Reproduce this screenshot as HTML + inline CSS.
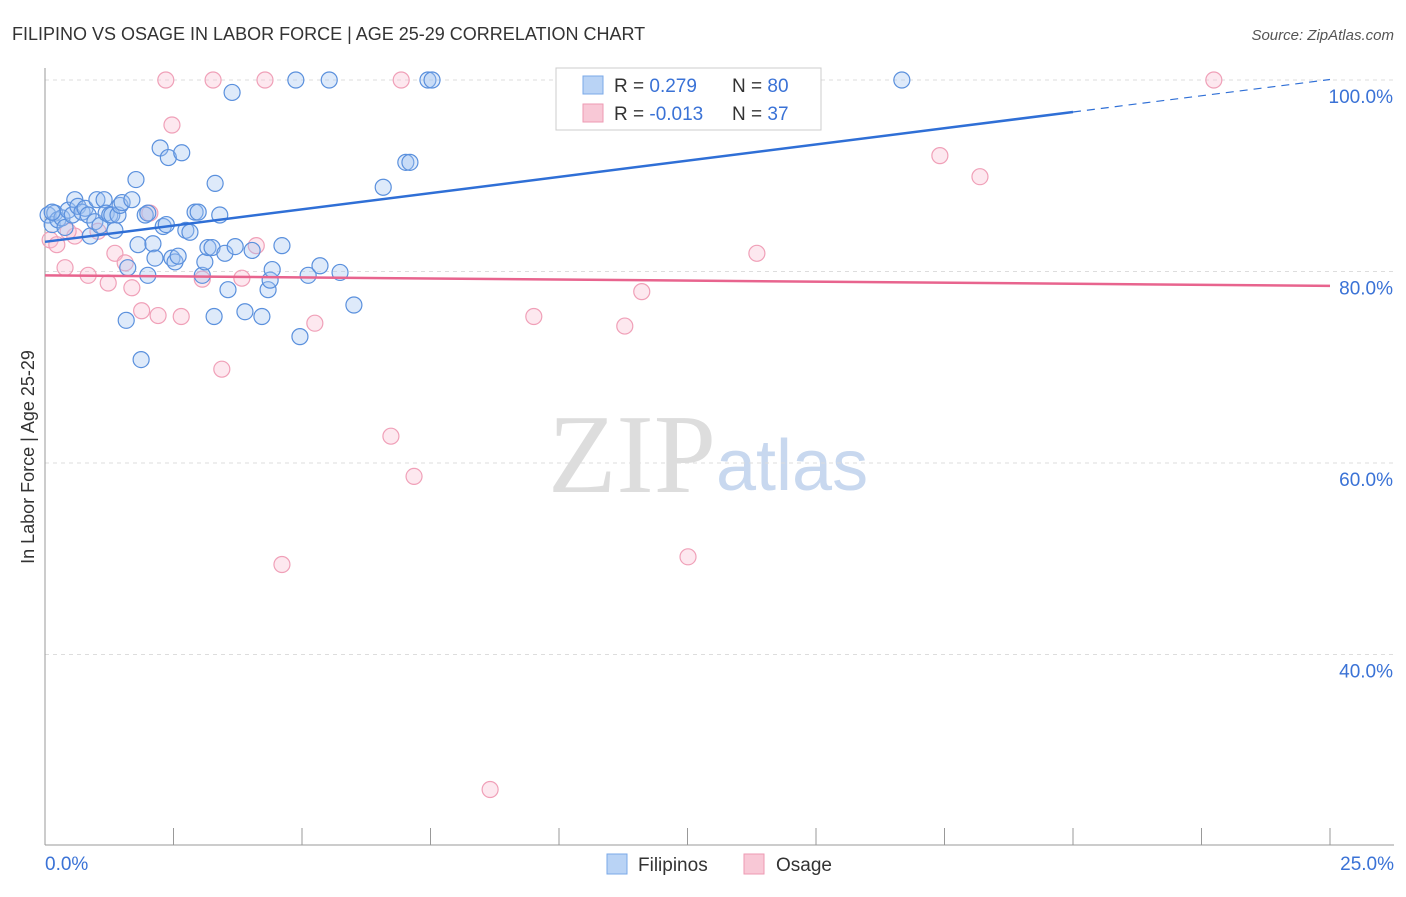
<!DOCTYPE html>
<html><head><meta charset="utf-8"><style>
body{margin:0;background:#fff;font-family:"Liberation Sans",sans-serif}
</style></head><body>
<svg id="chart" width="1406" height="892" xmlns="http://www.w3.org/2000/svg">
<text x="12" y="40" font-size="18" fill="#333">FILIPINO VS OSAGE IN LABOR FORCE | AGE 25-29 CORRELATION CHART</text>
<text x="1394" y="40" font-size="15" fill="#555" font-style="italic" text-anchor="end">Source: ZipAtlas.com</text>
<text x="716" y="492" font-size="112" fill="#ddd" text-anchor="end" font-family="Liberation Serif">ZIP</text>
<text x="716" y="490" font-size="72" fill="#c8d8ef">atlas</text>
<text transform="translate(34,457) rotate(-90)" font-size="18" fill="#333" text-anchor="middle">In Labor Force | Age 25-29</text>
<g id="grid"></g><g id="marks"></g>
<g>
<rect x="556" y="68" width="265" height="62" fill="#fff" stroke="#ccc"/>
<rect x="583" y="76" width="20" height="18" fill="#b9d3f5" stroke="#7aa8e8"/>
<text x="614" y="92" font-size="19" fill="#333">R = <tspan fill="#3a72d6">0.279</tspan><tspan x="732">N = </tspan><tspan fill="#3a72d6">80</tspan></text>
<rect x="583" y="104" width="20" height="18" fill="#f8c8d6" stroke="#ee9ab3"/>
<text x="614" y="120" font-size="19" fill="#333">R = <tspan fill="#3a72d6">-0.013</tspan><tspan x="732">N = </tspan><tspan fill="#3a72d6">37</tspan></text>
</g>
<g>
<rect x="607" y="854" width="20" height="20" fill="#b9d3f5" stroke="#7aa8e8"/>
<text x="638" y="871" font-size="19" fill="#333">Filipinos</text>
<rect x="744" y="854" width="20" height="20" fill="#f8c8d6" stroke="#ee9ab3"/>
<text x="776" y="871" font-size="19" fill="#333">Osage</text>
</g>
</svg>
<script>
const xTickLabels=["0.0%","25.0%"];
const yTicks=[100,80,60,40];
const blueX=[0.06,0.14,0.19,0.25,0.33,0.39,0.45,0.53,0.58,0.64,0.72,0.78,0.84,0.88,0.97,1.01,1.07,1.15,1.19,1.26,1.30,1.36,1.42,1.46,1.50,1.58,1.61,1.69,1.77,1.81,1.87,1.95,2.00,2.00,2.10,2.14,2.24,2.30,2.36,2.40,2.47,2.53,2.59,2.66,2.74,2.82,2.92,2.98,3.06,3.11,3.17,3.25,3.29,3.31,3.40,3.50,3.56,3.64,3.70,3.89,4.03,4.22,4.34,4.38,4.42,4.61,4.88,4.96,5.12,5.35,5.53,5.74,6.01,6.58,7.02,7.10,7.45,7.53,16.67,0.14];
const blueY=[85.9,84.9,86.1,85.4,85.6,84.6,86.4,85.9,87.5,86.8,86.2,86.6,85.9,83.7,85.2,87.5,84.8,87.5,86.1,85.9,85.9,84.3,85.9,86.9,87.2,74.9,80.4,87.5,89.6,82.8,70.8,85.9,79.6,86.1,82.9,81.4,92.9,84.7,84.9,91.9,81.4,81.0,81.6,92.4,84.3,84.1,86.2,86.2,79.6,81.0,82.5,82.5,75.3,89.2,85.9,81.9,78.1,98.7,82.6,75.8,82.2,75.3,78.1,79.1,80.2,82.7,100,73.2,79.6,80.6,100,79.9,76.5,88.8,91.4,91.4,100,100,100,86.2];
const pinkX=[0.10,0.23,0.39,0.58,0.84,1.03,1.23,1.36,1.56,1.69,1.88,2.04,2.20,2.35,2.47,2.65,3.06,3.27,3.44,3.83,4.11,4.28,4.61,5.25,6.73,6.93,7.18,8.66,9.51,11.28,11.61,12.51,13.85,17.41,18.19,22.74,0.45];
const pinkY=[83.3,82.8,80.4,83.7,79.6,84.2,78.8,81.9,80.9,78.3,75.9,86.1,75.4,100,95.3,75.3,79.2,100,69.8,79.3,82.7,100,49.4,74.6,62.8,100,58.6,25.9,75.3,74.3,77.9,50.2,81.9,92.1,89.9,100,84.2];
const blueTrend=[83.1,0.678];const pinkTrend=[79.6,-0.044];
const X0=45,XS=51.4,Y0=80,YS=9.575;
const xs=v=>X0+v*XS, ys=v=>Y0+(100-v)*YS;
const NS="http://www.w3.org/2000/svg";
function mk(tag,attrs,parent){const e=document.createElementNS(NS,tag);for(const k in attrs)e.setAttribute(k,attrs[k]);parent.appendChild(e);return e;}
const grid=document.getElementById('grid'),marks=document.getElementById('marks');
yTicks.forEach(t=>{const l=mk('line',{x1:45,x2:1394,y1:ys(t),y2:ys(t),stroke:'#ddd','stroke-dasharray':'4,4'},grid);


const tx=mk('text',{x:1393,y:ys(t)+23,'font-size':19,fill:'#3a72d6','text-anchor':'end'},grid);tx.textContent=t.toFixed(1)+'%';

});
mk('line',{x1:45,x2:45,y1:68,y2:845,stroke:'#999'},grid);
mk('line',{x1:45,x2:1394,y1:845,y2:845,stroke:'#999'},grid);
for(let i=1;i<=10;i++){mk('line',{x1:45+i*128.5,x2:45+i*128.5,y1:828,y2:845,stroke:'#999'},grid);}
[[xTickLabels[0],45,'start'],[xTickLabels[1],1394,'end']].forEach(a=>{const t=mk('text',{x:a[1],y:870,'font-size':19,fill:'#3a72d6','text-anchor':a[2]},grid);t.textContent=a[0];

});
pinkX.forEach((v,i)=>{const c=mk('circle',{cx:xs(v),cy:ys(pinkY[i]),r:8,fill:'rgba(248,190,208,0.35)',stroke:'#f0a0b8','stroke-width':1.2},marks);

});
blueX.forEach((v,i)=>{const c=mk('circle',{cx:xs(v),cy:ys(blueY[i]),r:8,fill:'rgba(160,195,240,0.35)',stroke:'#5a90dd','stroke-width':1.2},marks);

});
const bt=v=>blueTrend[0]+blueTrend[1]*v, pt=v=>pinkTrend[0]+pinkTrend[1]*v;
let l=mk('line',{x1:xs(0),y1:ys(bt(0)),x2:xs(20),y2:ys(bt(20)),stroke:'#2f6fd6','stroke-width':2.5},marks);


l=mk('line',{x1:xs(20),y1:ys(bt(20)),x2:xs(25),y2:ys(bt(25)),stroke:'#2f6fd6','stroke-width':1.2,'stroke-dasharray':'8,6'},marks);


l=mk('line',{x1:xs(0),y1:ys(pt(0)),x2:xs(25),y2:ys(pt(25)),stroke:'#e8648e','stroke-width':2.5},marks);


</script>
</body></html>
